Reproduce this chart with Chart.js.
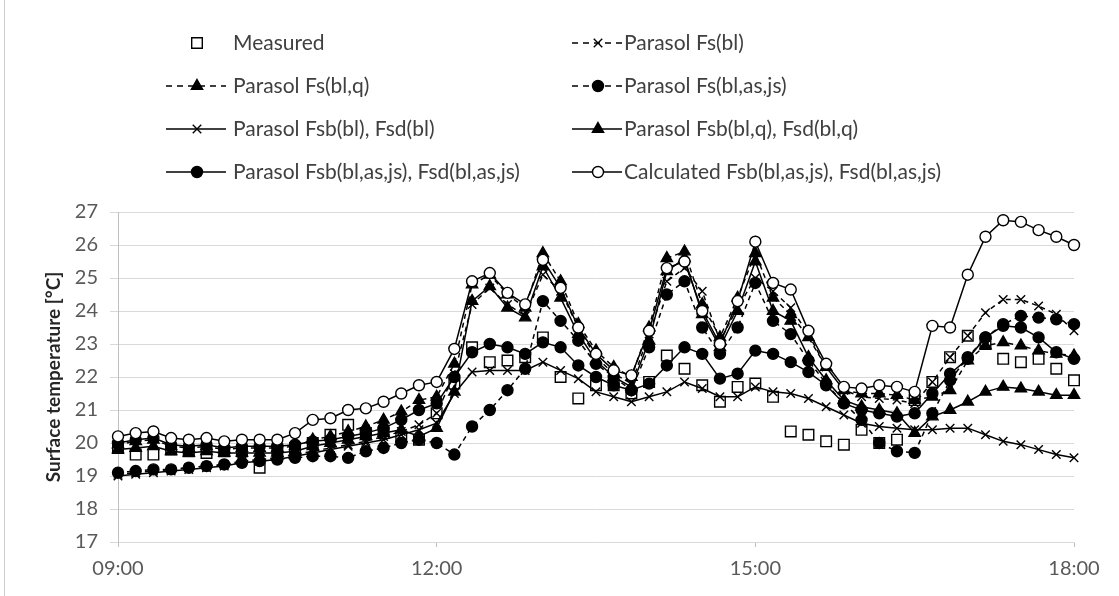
<!DOCTYPE html>
<html>
<head>
<meta charset="utf-8">
<script src="https://cdn.jsdelivr.net/npm/chart.js"></script>
<style>
  html, body { margin: 0; padding: 0; background: #fff; }
  #wrap { position: relative; width: 1119px; height: 596px; }
  #edge { position: absolute; left: 4px; top: 0; width: 1px; height: 596px; background: #cfcfcf; }
  canvas { position: absolute; left: 0; top: 0; }
</style>
</head>
<body>
<div id="wrap">
  <div id="edge"></div>
  <canvas id="chart" width="1119" height="596"></canvas>
</div>
<script>
// time of day, every 10 minutes
var times = ['09:00', '09:10', '09:20', '09:30', '09:40', '09:50',
             '10:00', '10:10', '10:20', '10:30', '10:40', '10:50',
             '11:00', '11:10', '11:20', '11:30', '11:40', '11:50',
             '12:00', '12:10', '12:20', '12:30', '12:40', '12:50',
             '13:00', '13:10', '13:20', '13:30', '13:40', '13:50',
             '14:00', '14:10', '14:20', '14:30', '14:40', '14:50',
             '15:00', '15:10', '15:20', '15:30', '15:40', '15:50',
             '16:00', '16:10', '16:20', '16:30', '16:40', '16:50',
             '17:00', '17:10', '17:20', '17:30', '17:40', '17:50',
             '18:00'];
var tickLabels = ['09:00', '12:00', '15:00', '18:00'];

var measured = [19.85, 19.65, 19.65, 19.8, 19.75, 19.7, 19.75, 19.75, 19.25, 19.8, 19.85, 20.0, 20.25, 20.55, 20.3, 20.3, 20.2, 20.1, 20.9,
  21.8, 22.9, 22.45, 22.5, 22.6, 23.2, 22.0, 21.35, 21.75, 21.75, 21.5, 21.85, 22.65, 22.25, 21.75, 21.25, 21.7, 21.8, 21.4, 20.35,
  20.25, 20.05, 19.95, 20.4, 20.0, 20.1, 21.3, 21.85, 22.6, 23.25, 23.0, 22.55, 22.45, 22.55, 22.25, 21.9];

var fsBl = [19.05, 19.1, 19.15, 19.2, 19.25, 19.3, 19.35, 19.45, 19.5, 19.55, 19.65, 19.75, 19.85, 19.95, 20.05, 20.2, 20.35, 20.55, 20.9,
  22.1, 24.2, 24.7, 24.2, 23.85, 25.1, 24.6, 23.5, 22.6, 22.1, 21.8, 23.3, 24.9, 25.3, 24.6, 23.1, 24.1, 25.0, 24.6, 24.1,
  23.3, 22.3, 21.6, 21.4, 21.35, 21.3, 21.2, 21.85, 22.6, 23.25, 23.95, 24.35, 24.35, 24.15, 23.9, 23.4];

var fsBlQ = [19.95, 20.05, 20.1, 19.9, 19.85, 19.9, 19.8, 19.85, 19.85, 19.85, 19.9, 20.1, 20.2, 20.35, 20.5, 20.7, 20.95, 21.3, 21.4,
  22.4, 24.8, 25.1, 24.5, 24.1, 25.75, 24.9, 23.6, 22.8, 22.3, 22.0, 23.5, 25.6, 25.8, 24.2, 23.2, 24.4, 25.75, 24.4, 23.9,
  23.2, 22.3, 21.6, 21.5, 21.5, 21.45, 21.3, 21.4, 21.6, 22.5, 22.95, 23.05, 22.95, 22.8, 22.7, 22.65];

var fsBlAsJs = [19.1, 19.15, 19.2, 19.2, 19.25, 19.3, 19.35, 19.4, 19.45, 19.5, 19.55, 19.6, 19.6, 19.55, 19.75, 19.85, 20.0, 20.1, 20.0,
  19.65, 20.5, 21.0, 21.6, 22.25, 24.3, 23.7, 23.1, 22.4, 22.0, 21.6, 22.9, 24.5, 24.9, 23.5, 22.7, 23.5, 24.85, 23.7, 23.3,
  22.5, 21.8, 21.2, 20.7, 20.0, 19.75, 19.7, 20.9, 21.9, 22.6, 23.2, 23.6, 23.85, 23.8, 23.75, 23.6];

var fsbBl = [19.0, 19.05, 19.1, 19.15, 19.2, 19.25, 19.3, 19.4, 19.45, 19.5, 19.6, 19.7, 19.8, 19.9, 20.0, 20.1, 20.25, 20.4, 20.6,
  21.5, 22.15, 22.2, 22.2, 22.2, 22.45, 22.2, 21.95, 21.55, 21.4, 21.25, 21.4, 21.55, 21.85, 21.65, 21.4, 21.4, 21.7, 21.55, 21.5,
  21.35, 21.1, 20.85, 20.6, 20.5, 20.45, 20.4, 20.4, 20.45, 20.45, 20.25, 20.05, 19.95, 19.8, 19.65, 19.55];

var fsbBlQ = [19.8, 19.85, 19.9, 19.75, 19.7, 19.75, 19.7, 19.7, 19.7, 19.7, 19.75, 19.9, 20.0, 20.1, 20.2, 20.3, 20.4, 20.2, 20.45,
  21.55, 24.3, 24.75, 24.1, 23.8, 25.35, 24.4, 23.3, 22.5, 22.0, 21.7, 23.1, 25.2, 25.6, 23.9, 22.9, 24.0, 25.5, 24.0, 23.7,
  22.6, 21.9, 21.3, 21.1, 21.0, 20.9, 20.3, 20.8, 21.0, 21.25, 21.55, 21.7, 21.65, 21.55, 21.45, 21.45];

var fsbBlAsJs = [20.0, 20.1, 20.15, 19.95, 19.9, 19.95, 19.85, 19.9, 19.9, 19.9, 19.95, 20.05, 20.1, 20.2, 20.3, 20.45, 20.7, 21.0, 21.2,
  22.0, 22.75, 23.0, 22.9, 22.7, 23.05, 22.9, 22.35, 22.0, 21.75, 21.6, 21.8, 22.35, 22.9, 22.7, 21.95, 22.1, 22.8, 22.7, 22.45,
  22.15, 21.75, 21.2, 21.0, 20.9, 20.8, 20.9, 21.5, 22.1, 22.55, 23.2, 23.55, 23.5, 23.2, 22.75, 22.55];

var calculated = [20.2, 20.3, 20.35, 20.15, 20.1, 20.15, 20.05, 20.1, 20.1, 20.1, 20.3, 20.7, 20.75, 21.0, 21.05, 21.25, 21.5, 21.75, 21.85,
  22.85, 24.9, 25.15, 24.55, 24.2, 25.55, 24.7, 23.5, 22.7, 22.2, 22.05, 23.4, 25.3, 25.5, 24.0, 23.0, 24.3, 26.1, 24.85, 24.65,
  23.4, 22.4, 21.7, 21.65, 21.75, 21.7, 21.55, 23.55, 23.5, 25.1, 26.25, 26.75, 26.7, 26.45, 26.25, 26.0];

var labelFont = 'Lato, "Open Sans", sans-serif';

function series(label, values, style, filled, dashed, line, radius, idx) {
    return {
        label: label,
        data: values,
        showLine: line,
        borderColor: '#000',
        borderWidth: 1.5,
        borderDash: dashed ? [5, 4] : [],
        pointStyle: style,
        pointRadius: radius,
        pointBorderWidth: 1.4,
        pointBorderColor: '#000',
        pointBackgroundColor: filled ? '#000' : '#fff',
        tension: 0,
        order: 8 - idx
    };
}

// draws one marker in the legend, same shapes as chart.js point styles
function drawMark(ctx, style, x, y, r, fill, stroke, width) {
    ctx.beginPath();
    if (style === 'circle') {
        ctx.arc(x, y, r, 0, Math.PI * 2);
    } else if (style === 'rect') {
        var s = r * Math.SQRT1_2;
        ctx.rect(x - s, y - s, 2 * s, 2 * s);
    } else if (style === 'triangle') {
        var a = 0;
        ctx.moveTo(x + Math.sin(a) * r, y - Math.cos(a) * r);
        a += Math.PI * 2 / 3;
        ctx.lineTo(x + Math.sin(a) * r, y - Math.cos(a) * r);
        a += Math.PI * 2 / 3;
        ctx.lineTo(x + Math.sin(a) * r, y - Math.cos(a) * r);
        ctx.closePath();
    } else if (style === 'crossRot') {
        var o = Math.cos(Math.PI / 4) * r;
        ctx.moveTo(x - o, y - o); ctx.lineTo(x + o, y + o);
        ctx.moveTo(x + o, y - o); ctx.lineTo(x - o, y + o);
    }
    ctx.fillStyle = fill;
    ctx.strokeStyle = stroke;
    ctx.lineWidth = width;
    if (style !== 'crossRot') ctx.fill();
    ctx.stroke();
}

var twoColLegend = {
    id: 'twoColLegend',
    afterDraw: function (chart) {
        var ctx = chart.ctx;
        var cols = [{ mark: 197, x1: 166, x2: 226, text: 233 },
                    { mark: 598, x1: 572, x2: 622, text: 624 }];
        var rows = [43, 86, 129, 172];
        chart.data.datasets.forEach(function (ds, i) {
            var c = cols[i % 2];
            var y = rows[Math.floor(i / 2)];
            ctx.save();
            if (ds.showLine) {
                ctx.strokeStyle = ds.borderColor;
                ctx.lineWidth = ds.borderWidth;
                ctx.setLineDash(ds.borderDash.length ? [6, 5] : []);
                ctx.beginPath();
                ctx.moveTo(c.x1, y);
                ctx.lineTo(c.x2, y);
                ctx.stroke();
            }
            ctx.setLineDash([]);
            drawMark(ctx, ds.pointStyle, c.mark, y, ds.pointRadius, ds.pointBackgroundColor, ds.pointBorderColor, ds.pointBorderWidth);
            ctx.fillStyle = '#404040';
            ctx.font = '21px ' + labelFont;
            ctx.textBaseline = 'middle';
            ctx.fillText(ds.label, c.text, y);
            ctx.restore();
        });
    }
};

var ctx = document.getElementById('chart').getContext('2d');
var chart = new Chart(ctx, {
    type: 'line',
    data: {
        labels: times,
        datasets: [
            series('Measured', measured, 'rect', false, false, false, 7.5, 0),
            series('Parasol Fs(bl)', fsBl, 'crossRot', false, true, true, 6, 1),
            series('Parasol Fs(bl,q)', fsBlQ, 'triangle', true, true, true, 6.5, 2),
            series('Parasol Fs(bl,as,js)', fsBlAsJs, 'circle', true, true, true, 5.5, 3),
            series('Parasol Fsb(bl), Fsd(bl)', fsbBl, 'crossRot', false, false, true, 6, 4),
            series('Parasol Fsb(bl,q), Fsd(bl,q)', fsbBlQ, 'triangle', true, false, true, 6.5, 5),
            series('Parasol Fsb(bl,as,js), Fsd(bl,as,js)', fsbBlAsJs, 'circle', true, false, true, 5.5, 6),
            series('Calculated Fsb(bl,as,js), Fsd(bl,as,js)', calculated, 'circle', false, false, true, 5.5, 7)
        ]
    },
    options: {
        responsive: false,
        animation: false,
        layout: { padding: { top: 212, right: 45, bottom: 0, left: 0 } },
        plugins: {
            legend: { display: false },
            tooltip: { enabled: false }
        },
        scales: {
            x: {
                type: 'category',
                offset: false,
                grid: {
                    drawOnChartArea: false,
                    tickLength: 5,
                    color: function (c) {
                        return tickLabels.indexOf(times[c.index]) >= 0 ? '#bfbfbf' : 'rgba(0,0,0,0)';
                    }
                },
                border: { color: '#d9d9d9' },
                ticks: {
                    autoSkip: false,
                    maxRotation: 0,
                    color: '#595959',
                    font: { family: labelFont, size: 20 },
                    padding: 10,
                    callback: function (v, i) {
                        return tickLabels.indexOf(times[i]) >= 0 ? times[i] : '';
                    }
                },
                afterFit: function (s) { s.height = 54; }
            },
            y: {
                min: 17,
                max: 27,
                grid: { color: '#d9d9d9', tickLength: 8 },
                border: { color: '#bfbfbf' },
                ticks: {
                    stepSize: 1,
                    color: '#595959',
                    font: { family: labelFont, size: 20 },
                    padding: 12
                },
                title: {
                    display: true,
                    text: 'Surface temperature [°C]',
                    color: '#262626',
                    font: { family: labelFont, size: 19, weight: 'bold' },
                    padding: { top: 42, bottom: 0 }
                },
                afterFit: function (s) { s.width = 118; }
            }
        }
    },
    plugins: [twoColLegend]
});
</script>
</body>
</html>
